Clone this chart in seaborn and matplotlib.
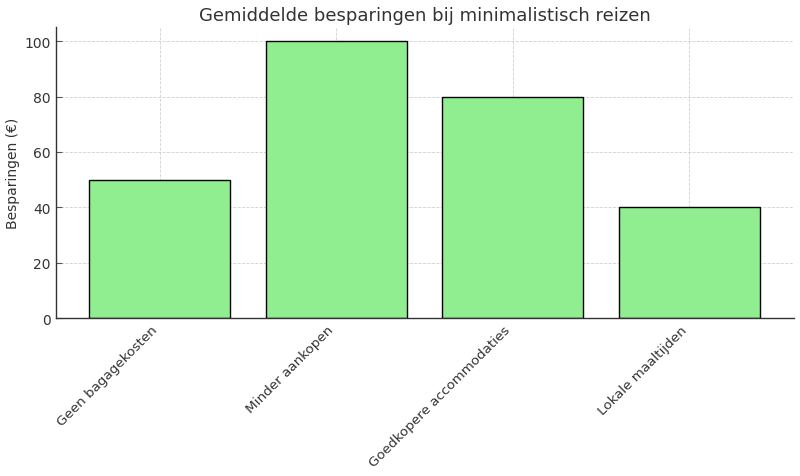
import matplotlib
matplotlib.use("Agg")
import matplotlib.pyplot as plt
import seaborn as sns
import pandas as pd

categories = ["Geen bagagekosten", "Minder aankopen", "Goedkopere accommodaties", "Lokale maaltijden"]
savings = [50, 100, 80, 40]

df = pd.DataFrame({"cat": categories, "val": savings})

sns.set_style("ticks")
plt.rcParams['font.family'] = ['DejaVu Sans']
plt.rcParams['text.color'] = '#333333'
plt.rcParams['axes.labelcolor'] = '#333333'
plt.rcParams['xtick.color'] = '#333333'
plt.rcParams['ytick.color'] = '#333333'
plt.rcParams['xtick.direction'] = 'in'
plt.rcParams['ytick.direction'] = 'in'

fig, ax = plt.subplots(figsize=(8, 4.77), dpi=100)
sns.barplot(data=df, x="cat", y="val", color="#90EE90", edgecolor="black",
            linewidth=1, width=0.8, saturation=1, ax=ax, zorder=2)
ax.set_xlim(-0.59, 3.59)
ax.set_ylim(0, 105)
ax.set_title("Gemiddelde besparingen bij minimalistisch reizen", fontsize=13, color='#333333', pad=5)
ax.set_xlabel("")
ax.set_ylabel("Besparingen (€)", fontsize=10, labelpad=3)
ax.tick_params(axis='y', labelsize=10, color='#555555', length=4)
ax.tick_params(axis='x', labelsize=9.7, color='#555555', length=4)
plt.setp(ax.get_xticklabels(), rotation=45, ha='right')
ax.grid(True, linestyle='--', linewidth=0.6, color='#d0d0d0', zorder=0)
ax.set_axisbelow(True)
for s in ['top', 'right']:
    ax.spines[s].set_visible(False)
for s in ['left', 'bottom']:
    ax.spines[s].set_color('#333333')
    ax.spines[s].set_linewidth(1)
fig.subplots_adjust(left=0.0696, right=0.9919, top=0.9407, bottom=0.3312)
fig.savefig("out.png", dpi=100)
